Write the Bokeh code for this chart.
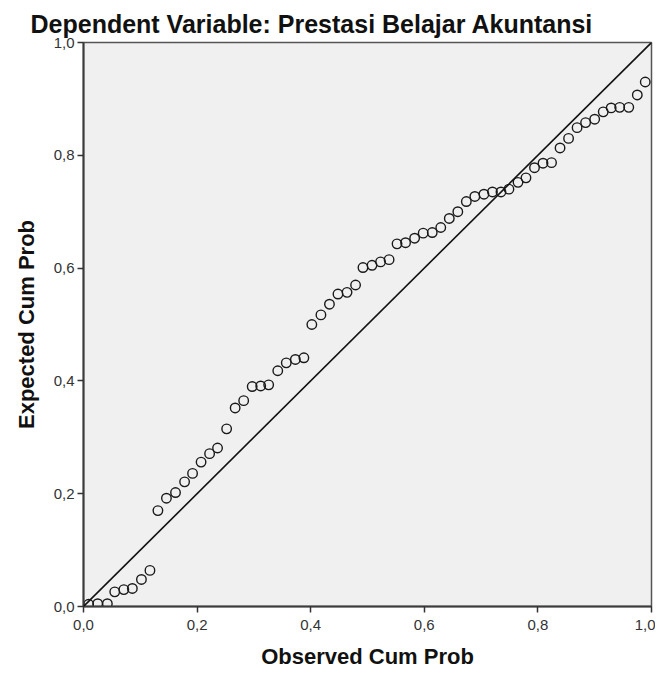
from bokeh.plotting import figure
from bokeh.models import Range1d, FixedTicker, CustomJSTickFormatter, Slope
from bokeh.embed import file_html
from bokeh.resources import INLINE

title_text = "Dependent Variable: Prestasi Belajar Akuntansi"
x_label = "Observed Cum Prob"
y_label = "Expected Cum Prob"
tick_values = [0.0, 0.2, 0.4, 0.6, 0.8, 1.0]

observed_cum_prob = [0.009, 0.025, 0.042, 0.055, 0.071, 0.086, 0.102, 0.117, 0.131, 0.146,
                     0.162, 0.178, 0.192, 0.207, 0.222, 0.236, 0.252, 0.267, 0.282, 0.297,
                     0.312, 0.326, 0.342, 0.357, 0.373, 0.388, 0.402, 0.418, 0.433, 0.448,
                     0.464, 0.479, 0.492, 0.508, 0.523, 0.538, 0.552, 0.567, 0.583, 0.598,
                     0.614, 0.629, 0.644, 0.659, 0.674, 0.689, 0.705, 0.720, 0.735, 0.749,
                     0.765, 0.779, 0.794, 0.809, 0.824, 0.839, 0.854, 0.869, 0.884, 0.900,
                     0.915, 0.929, 0.944, 0.960, 0.975, 0.989]
expected_cum_prob = [0.004, 0.005, 0.005, 0.026, 0.030, 0.032, 0.048, 0.064, 0.170, 0.192,
                     0.202, 0.221, 0.236, 0.256, 0.271, 0.281, 0.315, 0.352, 0.365, 0.390,
                     0.391, 0.393, 0.418, 0.432, 0.438, 0.441, 0.500, 0.517, 0.536, 0.554,
                     0.557, 0.570, 0.601, 0.605, 0.611, 0.615, 0.643, 0.645, 0.653, 0.662,
                     0.663, 0.672, 0.688, 0.700, 0.718, 0.727, 0.731, 0.735, 0.735, 0.740,
                     0.752, 0.760, 0.778, 0.786, 0.787, 0.813, 0.830, 0.849, 0.858, 0.864,
                     0.877, 0.884, 0.885, 0.885, 0.907, 0.930]

FONT = "Liberation Sans"

p = figure(width=655, height=671, output_backend="svg", toolbar_location=None,
           x_range=Range1d(0, 1), y_range=Range1d(0, 1),
           min_border_left=83, min_border_right=4, min_border_top=42, min_border_bottom=65)

p.background_fill_color = "#f0f0f0"
p.border_fill_color = "white"
p.outline_line_color = "#555555"
p.outline_line_width = 1.5
p.xgrid.visible = False
p.ygrid.visible = False

p.title.text = title_text
p.title.text_font = FONT
p.title.text_font_style = "bold"
p.title.text_font_size = "25px"
p.title.text_color = "#111111"
p.title.align = "left"
p.title.offset = -53
p.title.standoff = 10

fmt = CustomJSTickFormatter(code="return tick.toFixed(1).replace('.', ',');")
for ax in (p.xaxis[0], p.yaxis[0]):
    ax.ticker = FixedTicker(ticks=tick_values)
    ax.formatter = fmt
    ax.minor_tick_line_color = None
    ax.major_tick_in = 0
    ax.major_tick_out = 6
    ax.major_tick_line_color = "#333333"
    ax.major_tick_line_width = 1.5
    ax.axis_line_color = "#3c3c3c"
    ax.axis_line_width = 2
    ax.major_label_text_font = FONT
    ax.major_label_text_font_size = "15px"
    ax.major_label_text_color = "#333333"
    ax.axis_label_text_font = FONT
    ax.axis_label_text_font_style = "bold"
    ax.axis_label_text_font_size = "22px"
    ax.axis_label_text_color = "#111111"

p.xaxis.axis_label = x_label
p.yaxis.axis_label = y_label
p.xaxis.major_label_standoff = 7
p.yaxis.major_label_standoff = 3
p.xaxis.axis_label_standoff = 11
p.yaxis.axis_label_standoff = 12

p.add_layout(Slope(gradient=1, y_intercept=0, line_color="#111111", line_width=1.6))

p.scatter(observed_cum_prob, expected_cum_prob, marker="circle", size=9.5,
          fill_color=None, line_color="#1a1a1a", line_width=1.4)

open("out.html", "w").write(file_html(p, INLINE))
